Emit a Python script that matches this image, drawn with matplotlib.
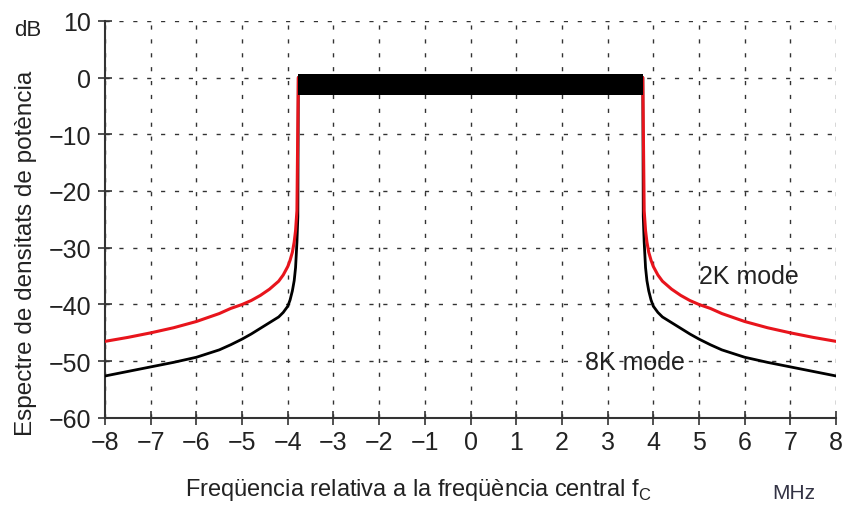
import numpy as np
import matplotlib.pyplot as plt

plt.rcParams['font.family'] = ['Liberation Sans', 'DejaVu Sans']

# left half of spectrum (MHz, dB); right half is the mirror image
f_2k = [-8.0, -7.5, -7.0, -6.5, -6.0, -5.5, -5.25, -5.0, -4.8, -4.6, -4.4, -4.2, -4.1, -4.0, -3.95, -3.9, -3.86, -3.83, -3.8, -3.77]
p_2k = [-46.5, -45.8, -45.0, -44.1, -43.0, -41.6, -40.7, -40.0, -39.3, -38.4, -37.3, -35.9, -34.8, -33.3, -32.2, -30.8, -29.0, -27.0, -23.5, 0.0]
f_8k = [-8.0, -7.5, -7.0, -6.5, -6.0, -5.5, -5.25, -5.0, -4.8, -4.6, -4.4, -4.2, -4.1, -4.0, -3.95, -3.9, -3.86, -3.83, -3.8, -3.78, -3.77]
p_8k = [-52.6, -51.8, -51.0, -50.2, -49.3, -48.0, -47.1, -46.1, -45.2, -44.2, -43.2, -42.2, -41.4, -40.3, -39.2, -37.6, -35.8, -33.5, -29.0, -24.5, 0.0]

# in-band ripple band (dB)
band_edge = 3.77
band_top = 0.6
band_bot = -3.0

xticks = list(range(-8, 9))
yticks = list(range(-60, 11, 10))

def mirror(f, p):
    f = np.array(f)
    p = np.array(p)
    return np.concatenate([f, [0.0], -f[::-1]]), np.concatenate([p, [0.0], p[::-1]])

fig = plt.figure(figsize=(8.54, 5.06), dpi=100)
ax = fig.add_axes([0.123, 0.172, 0.856, 0.785])

x2, y2 = mirror(f_2k, p_2k)
x8, y8 = mirror(f_8k, p_8k)
ax.plot(x8, y8, color='black', lw=2, zorder=3)
ax.plot(x2, y2, color='#e8141c', lw=2.2, zorder=4)
ax.fill_between([-band_edge, band_edge], band_bot, band_top, color='black', zorder=5, lw=0)

ax.set_xlim(-8, 8)
ax.set_ylim(-60, 10)
ax.set_xticks(xticks)
ax.set_yticks(yticks)
ax.set_xticklabels(['\u2212%d' % -v if v < 0 else str(v) for v in xticks])
ax.set_yticklabels(['\u2212%d' % -v if v < 0 else str(v) for v in yticks])
ax.grid(True, color='#333333', ls=(0, (3, 7)), lw=1.0)
ax.set_axisbelow(True)
for s in ['top', 'right']:
    ax.spines[s].set_visible(False)
for s in ['left', 'bottom']:
    ax.spines[s].set_color('#333333')
    ax.spines[s].set_linewidth(1.5)
ax.tick_params(direction='inout', length=10, width=1.2, color='#333333', labelsize=18, colors='#222222')
ax.tick_params(axis='y', pad=5)
ax.tick_params(axis='x', pad=4)

fig.text(0.033, 0.94, 'dB', fontsize=16, ha='center', va='center', color='#222222')
fig.text(0.03, 0.50, 'Espectre de densitats de potència', rotation=90, fontsize=17.5,
         ha='center', va='center', color='#222222')
fig.text(0.49, 0.032, 'Freqüencia relativa a la freqüència central f$_\\mathregular{C}$', fontsize=17,
         ha='center', va='center', color='#222222')
fig.text(0.93, 0.025, 'MHz', fontsize=15, ha='center', va='center', color='#333344')
ax.text(6.1, -35.0, '2K mode', fontsize=18, ha='center', va='center', color='#222222')
ax.text(3.6, -50.2, '8K mode', fontsize=18, ha='center', va='center', color='#222222')

fig.savefig('out.png', dpi=100)
